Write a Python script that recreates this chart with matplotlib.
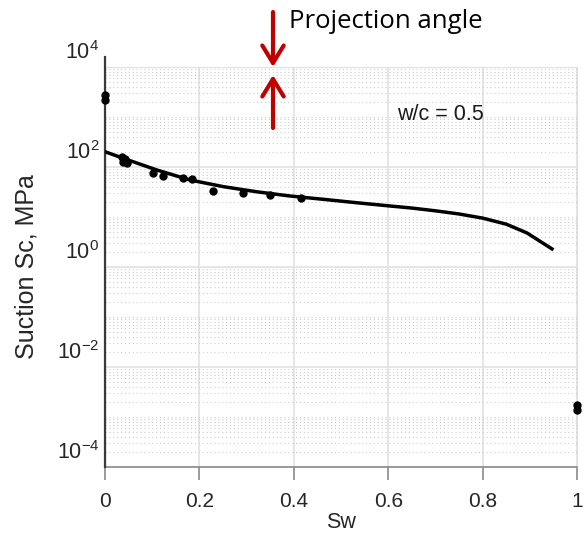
import numpy as np
import matplotlib
matplotlib.use("Agg")
import matplotlib.pyplot as plt
import matplotlib.transforms as mtransforms
from matplotlib.ticker import FixedLocator, NullFormatter

plt.rcParams["font.family"] = ["Liberation Sans", "DejaVu Sans"]
plt.rcParams["mathtext.fontset"] = "custom"
plt.rcParams["mathtext.rm"] = "Liberation Sans"
plt.rcParams["mathtext.it"] = "Liberation Sans:italic"

# model curve (w/c = 0.5)
sw_model = [0.0, 0.039, 0.110, 0.180, 0.251, 0.321, 0.392, 0.462, 0.533,
            0.604, 0.65, 0.70, 0.75, 0.80, 0.85, 0.894, 0.947]
sc_model = [202, 149, 87, 55, 40.4, 32, 26.3, 22.6, 19.3,
            16.6, 15.1, 13.3, 11.5, 9.5, 7.2, 4.8, 2.3]

# measured points
sw_meas = [0.0, 0.0, 0.035, 0.039, 0.042, 0.047, 0.101, 0.122, 0.165, 0.185,
           0.228, 0.292, 0.350, 0.415, 1.0, 1.0]
sc_meas = [2200, 2700, 156, 124, 145, 119, 75, 67, 61, 57,
           33, 30, 27, 24, 1.4e-3, 1.75e-3]

major_ticks = [1e-4, 1e-2, 1e0, 1e2, 1e4]
major_labels = ["$10^{-4}$", "$10^{-2}$", "$10^{0}$", "$10^{2}$", "$10^{4}$"]
x_ticks = [0, 0.2, 0.4, 0.6, 0.8, 1]
x_labels = ["0", "0.2", "0.4", "0.6", "0.8", "1"]

W, H = 585, 538
fig = plt.figure(figsize=(W / 100, H / 100), dpi=100)
ax = fig.add_axes([105 / W, 1 - 467 / H, 472 / W, 400 / H])

ax.set_yscale("log")
ax.set_xlim(0, 1)
ax.set_ylim(1e-4, 1e4)

# grid: solid major lines every two decades, dotted minor lines elsewhere
minor = [k * 10.0 ** n for n in range(-4, 4) for k in range(1, 10)]
minor = [v for v in minor if v not in major_ticks]
ax.yaxis.set_major_locator(FixedLocator(major_ticks))
ax.yaxis.set_minor_locator(FixedLocator(minor))
ax.yaxis.set_minor_formatter(NullFormatter())
ax.set_yticklabels(major_labels)
ax.set_xticks(x_ticks)
ax.set_xticklabels(x_labels)

ax.grid(True, which="major", color="#e2e2e2", lw=1.2, ls="-")
ax.grid(True, which="minor", axis="y", color="#cccccc", lw=0.8, ls=(0, (1, 2.5)))
ax.set_axisbelow(True)

for side in ["top", "right"]:
    ax.spines[side].set_color("#e0e0e0")
ax.spines["bottom"].set_color("#8a8a8a")
ax.spines["bottom"].set_linewidth(1.2)
ax.spines["left"].set_color("#8a8a8a")

ax.tick_params(axis="x", direction="out", length=9, width=1.2, color="#8a8a8a",
               labelsize=15, pad=9, labelcolor="#262626")
ax.tick_params(axis="y", which="both", length=0, labelsize=15.5, pad=4,
               labelcolor="#262626")

# tick labels sit a little above their grid lines in the original
shift = mtransforms.ScaledTranslation(0, 17 / 100, fig.dpi_scale_trans)
for lab in ax.get_yticklabels():
    lab.set_transform(lab.get_transform() + shift)

# dark vertical line along Sw = 0
ax.plot([0, 0], [1e-4, 10 ** 4.2], color="#3a3a3a", lw=1.6, clip_on=False, zorder=4)

ax.plot(sw_model, sc_model, color="black", lw=2.5, zorder=5)
ax.plot(sw_meas, sc_meas, "o", color="black", ms=5, zorder=6, clip_on=False)

ax.set_xlabel("Sw", fontsize=15.5, color="#262626", labelpad=1)
ax.set_ylabel("Suction Sc, MPa", fontsize=18, color="#262626")
ax.yaxis.set_label_coords(-0.14, 0.5)

ax.text(397 / W, 1 - 115 / H, "w/c = 0.5", transform=fig.transFigure,
        fontsize=15.5, va="center", ha="left", color="#1a1a1a")

# projection angle arrows
red = "#C00000"
arrow = "->,head_length=0.9,head_width=0.55"
ax.annotate("", xy=(273, H - 67), xytext=(273, H - 12), xycoords="figure pixels",
            textcoords="figure pixels",
            arrowprops=dict(arrowstyle=arrow, color=red, lw=3, mutation_scale=14,
                            shrinkA=0, shrinkB=0))
ax.annotate("", xy=(273, H - 75), xytext=(273, H - 128), xycoords="figure pixels",
            textcoords="figure pixels",
            arrowprops=dict(arrowstyle=arrow, color=red, lw=3, mutation_scale=14,
                            shrinkA=0, shrinkB=0))
fig.text(289 / W, 1 - 22 / H, "Projection angle", fontsize=18.5,
         family=["Open Sans", "DejaVu Sans"], va="center", ha="left", color="black")

fig.savefig("out.png", dpi=100)
